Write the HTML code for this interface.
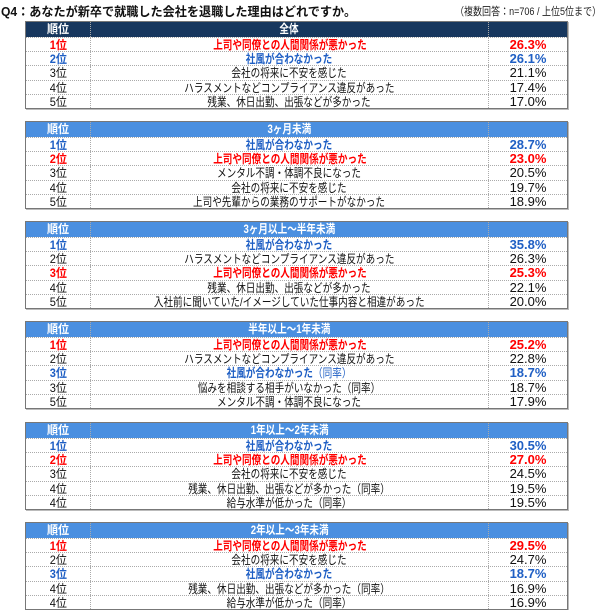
<!DOCTYPE html>
<html><head><meta charset="utf-8"><style>
body{margin:0;width:600px;height:608px;background:#fff;position:relative;overflow:hidden;font-family:"Liberation Sans","Noto Sans CJK JP",sans-serif;}
.title{position:absolute;left:1px;top:1px;font-size:12.5px;font-weight:bold;color:#111;white-space:nowrap;}
.title span{display:inline-block;transform:scaleX(.97);transform-origin:left;}
.note{position:absolute;left:455px;top:3px;font-size:11px;color:#222;white-space:nowrap;}
.note span{display:inline-block;transform:scaleX(.82);transform-origin:left;}
.t{position:absolute;left:25px;width:541px;border:1px solid #777;box-shadow:1px 1px 0 #bbb;}
.r{height:14.2px;border-top:1px dotted #aaa;display:flex;font-size:12px;line-height:14px;color:#111;box-sizing:border-box;}
.h{height:15px;border-top:none;color:#fff;font-weight:bold;background:#4a8fe0;}
.t.d .h{background:#17375e;}
.c1{width:64px;text-align:center;border-right:1px dotted #aaa;}
.c2{width:397px;text-align:center;border-right:1px dotted #aaa;white-space:nowrap;overflow:visible;}
.c3{flex:1;text-align:center;font-size:13px;}
.c2 span{display:inline-block;transform:scaleX(.8);}
.c1 span{display:inline-block;transform:scaleX(.92);}
.red{color:#f00;font-weight:bold;}
.blu{color:#1f5fc4;font-weight:bold;}
</style></head><body>
<div class="title"><span>Q4：あなたが新卒で就職した会社を退職した理由はどれですか。</span></div>
<div class="note"><span>（複数回答：n=706 / 上位5位まで）</span></div>

<div class="t d" style="top:21px">
<div class="r h"><div class="c1"><span>順位</span></div><div class="c2"><span>全体</span></div><div class="c3"></div></div>
<div class="r red"><div class="c1"><span>1位</span></div><div class="c2"><span>上司や同僚との人間関係が悪かった</span></div><div class="c3"><span>26.3%</span></div></div>
<div class="r blu"><div class="c1"><span>2位</span></div><div class="c2"><span>社風が合わなかった</span></div><div class="c3"><span>26.1%</span></div></div>
<div class="r"><div class="c1"><span>3位</span></div><div class="c2"><span>会社の将来に不安を感じた</span></div><div class="c3"><span>21.1%</span></div></div>
<div class="r"><div class="c1"><span>4位</span></div><div class="c2"><span>ハラスメントなどコンプライアンス違反があった</span></div><div class="c3"><span>17.4%</span></div></div>
<div class="r"><div class="c1"><span>5位</span></div><div class="c2"><span>残業、休日出勤、出張などが多かった</span></div><div class="c3"><span>17.0%</span></div></div>
</div>

<div class="t" style="top:121px">
<div class="r h"><div class="c1"><span>順位</span></div><div class="c2"><span>3ヶ月未満</span></div><div class="c3"></div></div>
<div class="r blu"><div class="c1"><span>1位</span></div><div class="c2"><span>社風が合わなかった</span></div><div class="c3"><span>28.7%</span></div></div>
<div class="r red"><div class="c1"><span>2位</span></div><div class="c2"><span>上司や同僚との人間関係が悪かった</span></div><div class="c3"><span>23.0%</span></div></div>
<div class="r"><div class="c1"><span>3位</span></div><div class="c2"><span>メンタル不調・体調不良になった</span></div><div class="c3"><span>20.5%</span></div></div>
<div class="r"><div class="c1"><span>4位</span></div><div class="c2"><span>会社の将来に不安を感じた</span></div><div class="c3"><span>19.7%</span></div></div>
<div class="r"><div class="c1"><span>5位</span></div><div class="c2"><span>上司や先輩からの業務のサポートがなかった</span></div><div class="c3"><span>18.9%</span></div></div>
</div>

<div class="t" style="top:221px">
<div class="r h"><div class="c1"><span>順位</span></div><div class="c2"><span>3ヶ月以上～半年未満</span></div><div class="c3"></div></div>
<div class="r blu"><div class="c1"><span>1位</span></div><div class="c2"><span>社風が合わなかった</span></div><div class="c3"><span>35.8%</span></div></div>
<div class="r"><div class="c1"><span>2位</span></div><div class="c2"><span>ハラスメントなどコンプライアンス違反があった</span></div><div class="c3"><span>26.3%</span></div></div>
<div class="r red"><div class="c1"><span>3位</span></div><div class="c2"><span>上司や同僚との人間関係が悪かった</span></div><div class="c3"><span>25.3%</span></div></div>
<div class="r"><div class="c1"><span>4位</span></div><div class="c2"><span>残業、休日出勤、出張などが多かった</span></div><div class="c3"><span>22.1%</span></div></div>
<div class="r"><div class="c1"><span>5位</span></div><div class="c2"><span>入社前に聞いていた/イメージしていた仕事内容と相違があった</span></div><div class="c3"><span>20.0%</span></div></div>
</div>

<div class="t" style="top:321px">
<div class="r h"><div class="c1"><span>順位</span></div><div class="c2"><span>半年以上～1年未満</span></div><div class="c3"></div></div>
<div class="r red"><div class="c1"><span>1位</span></div><div class="c2"><span>上司や同僚との人間関係が悪かった</span></div><div class="c3"><span>25.2%</span></div></div>
<div class="r"><div class="c1"><span>2位</span></div><div class="c2"><span>ハラスメントなどコンプライアンス違反があった</span></div><div class="c3"><span>22.8%</span></div></div>
<div class="r blu"><div class="c1"><span>3位</span></div><div class="c2"><span>社風が合わなかった<b style="font-weight:normal">（同率）</b></span></div><div class="c3"><span>18.7%</span></div></div>
<div class="r"><div class="c1"><span>3位</span></div><div class="c2"><span>悩みを相談する相手がいなかった（同率）</span></div><div class="c3"><span>18.7%</span></div></div>
<div class="r"><div class="c1"><span>5位</span></div><div class="c2"><span>メンタル不調・体調不良になった</span></div><div class="c3"><span>17.9%</span></div></div>
</div>

<div class="t" style="top:422px">
<div class="r h"><div class="c1"><span>順位</span></div><div class="c2"><span>1年以上～2年未満</span></div><div class="c3"></div></div>
<div class="r blu"><div class="c1"><span>1位</span></div><div class="c2"><span>社風が合わなかった</span></div><div class="c3"><span>30.5%</span></div></div>
<div class="r red"><div class="c1"><span>2位</span></div><div class="c2"><span>上司や同僚との人間関係が悪かった</span></div><div class="c3"><span>27.0%</span></div></div>
<div class="r"><div class="c1"><span>3位</span></div><div class="c2"><span>会社の将来に不安を感じた</span></div><div class="c3"><span>24.5%</span></div></div>
<div class="r"><div class="c1"><span>4位</span></div><div class="c2"><span>残業、休日出勤、出張などが多かった（同率）</span></div><div class="c3"><span>19.5%</span></div></div>
<div class="r"><div class="c1"><span>4位</span></div><div class="c2"><span>給与水準が低かった（同率）</span></div><div class="c3"><span>19.5%</span></div></div>
</div>

<div class="t" style="top:522px">
<div class="r h"><div class="c1"><span>順位</span></div><div class="c2"><span>2年以上～3年未満</span></div><div class="c3"></div></div>
<div class="r red"><div class="c1"><span>1位</span></div><div class="c2"><span>上司や同僚との人間関係が悪かった</span></div><div class="c3"><span>29.5%</span></div></div>
<div class="r"><div class="c1"><span>2位</span></div><div class="c2"><span>会社の将来に不安を感じた</span></div><div class="c3"><span>24.7%</span></div></div>
<div class="r blu"><div class="c1"><span>3位</span></div><div class="c2"><span>社風が合わなかった</span></div><div class="c3"><span>18.7%</span></div></div>
<div class="r"><div class="c1"><span>4位</span></div><div class="c2"><span>残業、休日出勤、出張などが多かった（同率）</span></div><div class="c3"><span>16.9%</span></div></div>
<div class="r"><div class="c1"><span>4位</span></div><div class="c2"><span>給与水準が低かった（同率）</span></div><div class="c3"><span>16.9%</span></div></div>
</div>
</body></html>
